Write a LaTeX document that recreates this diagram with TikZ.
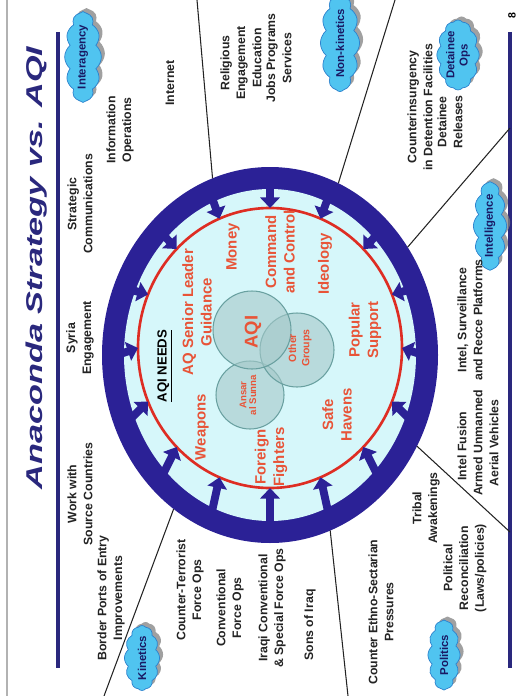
\documentclass[tikz,border=0pt]{standalone}
\usepackage{fontspec}
\setmainfont{Liberation Sans}
\usepackage{graphicx}
\usetikzlibrary{arrows.meta,shapes.symbols,shadows}

\definecolor{ringblue}{RGB}{43,33,150}
\definecolor{titleblue}{RGB}{42,40,125}
\definecolor{skyfill}{RGB}{214,247,250}
\definecolor{needred}{RGB}{232,84,56}
\definecolor{redline}{RGB}{222,45,35}
\definecolor{vennfill}{RGB}{165,200,200}
\definecolor{venndraw}{RGB}{105,160,160}
\definecolor{cloudfill}{RGB}{80,196,240}
\definecolor{clouddraw}{RGB}{45,130,205}
\definecolor{cloudtext}{RGB}{25,25,100}
\definecolor{outtext}{RGB}{35,35,35}

\tikzset{ bubble/.style = { cloud % group cloud
        , cloud puffs = 12
        , cloud puff arc = 100
        , aspect = 3.4
        , draw = clouddraw
        , fill = cloudfill
        , rotate = 90
        , inner sep = 0pt
        , text = cloudtext
        , font = \fontsize{6.5}{7.5}\selectfont\bfseries
        , drop shadow = {shadow xshift=2pt, shadow yshift=2pt, fill=gray, opacity=0.75}
        }
        , venn/.style = { draw = venndraw % group circle
        , fill = vennfill
        , fill opacity = 0.6
        , line width = 0.6pt
        }
        }

\begin{document}
\begin{tikzpicture}[x=0.02cm, y=-0.02cm,
        out_style/.style={rotate=90,align=center,inner sep=0pt,text=outtext,font=\fontsize{7}{9}\selectfont\bfseries},
        need_style/.style={rotate=90,align=center,inner sep=0pt,text=needred,font=\fontsize{8.5}{10.5}\selectfont\bfseries},
        title_style/.style={rotate=90,inner sep=0pt,text=titleblue,font=\fontsize{13}{13}\selectfont\bfseries\itshape},
        edge_style/.style={draw=outtext,line width=0.6pt},
        jab_style/.style={draw=ringblue,line width=4.5pt,-{Triangle[width=11pt,length=6pt]}},
        rule_style/.style={draw=titleblue,line width=1.8pt}]
        \useasboundingbox (0,0) rectangle (522,696);
        \draw [gray!60, line width=1pt] (7,0) -- (7,696);

        % title and rules
        \node [title_style] (ttl) at (37,268) {\scalebox{1.5}[1]{Anaconda Strategy vs. AQI}};
        \draw [rule_style] (58,32) -- (58,668);
        \draw [rule_style] (510,32) -- (510,668);
        \node [rotate=90,inner sep=0pt,font=\fontsize{6}{6}\selectfont\bfseries] (pg) at (512,16) {8};

        % ring
        \fill [ringblue] (270,355) ellipse [x radius=168, y radius=188];
        \fill [skyfill] (270,355) ellipse [x radius=146, y radius=166];
        \draw [redline, line width=1.5pt] (270,348) ellipse [x radius=132, y radius=140];
        \foreach \k [evaluate=\k as \a using \k*22.5] in {0,...,15} {
            \coordinate (rb\k) at ({270+153*cos(\a)},{355+172*sin(\a)});
            \coordinate (rt\k) at ({270+132*cos(\a)},{348+140*sin(\a)});
            \draw [jab_style] (rb\k) -- (rt\k);
        }

        % dividers
        \coordinate (ra) at ({270+168*cos(250)},{355+188*sin(250)});
        \coordinate (rb) at ({270+168*cos(294)},{355+188*sin(294)});
        \coordinate (rc) at ({270+168*cos(325)},{355+188*sin(325)});
        \coordinate (rd) at ({270+168*cos(29)},{355+188*sin(29)});
        \coordinate (re) at ({270+168*cos(69)},{355+188*sin(69)});
        \coordinate (rf) at ({270+168*cos(125)},{355+188*sin(125)});
        \coordinate (ea) at (197,0);
        \coordinate (eb) at (395,0);
        \coordinate (ec) at (510,128);
        \coordinate (ed) at (510,532);
        \coordinate (ee) at (348,696);
        \coordinate (ef) at (104,696);
        \draw [edge_style] (ra) -- (ea);
        \draw [edge_style] (rb) -- (eb);
        \draw [edge_style] (rc) -- (ec);
        \draw [edge_style] (rd) -- (ed);
        \draw [edge_style] (re) -- (ee);
        \draw [edge_style] (rf) -- (ef);

        % AQI groups
        \path [venn] (250,395) circle (34);
        \path [venn] (297,350) circle (37);
        \path [venn] (252,330) circle (39);
        \node [rotate=90,inner sep=0pt,text=needred,font=\fontsize{10.5}{10.5}\selectfont\bfseries] (aqi) at (253,332) {AQI};
        \node [need_style,font=\fontsize{6}{7.5}\selectfont\bfseries] (other) at (300,348) {Other\\Groups};
        \node [need_style,font=\fontsize{5.5}{5.5}\selectfont\bfseries] (ansar) at (248,395) {Ansar\\al Sunna};

        % AQI needs
        \node [need_style,text=black,font=\fontsize{7.5}{9}\selectfont\bfseries] (needs) at (165,366) {\underline{AQI NEEDS}};
        \node [need_style] (sl) at (197,312) {AQ Senior Leader\\Guidance};
        \node [need_style] (money) at (233,247) {Money};
        \node [need_style] (cc) at (280,252) {Command\\and Control};
        \node [need_style] (ideo) at (325,264) {Ideology};
        \node [need_style] (pop) at (365,330) {Popular\\Support};
        \node [need_style] (safe) at (337,415) {Safe\\Havens};
        \node [need_style] (ff) at (271,457) {Foreign\\Fighters};
        \node [need_style] (weap) at (202,427) {Weapons};

        % interagency
        \node [bubble, minimum width=1.74cm] (inter) at (83,57) {Interagency};
        \node [out_style] (work) at (80,494) {Work with\\Source Countries};
        \node [out_style] (syria) at (80,338) {Syria\\Engagement};
        \node [out_style] (strat) at (80,204) {Strategic\\Communications};
        \node [out_style] (info) at (120,130) {Information\\Operations};
        \node [out_style] (net) at (170,83) {Internet};
        \node [out_style] (border) at (111,598) {Border Ports of Entry\\Improvements};

        % kinetics
        \node [bubble, aspect=2.2, minimum width=1.3cm] (kin) at (142,658) {Kinetics};
        \node [out_style] (ctf) at (190,590) {Counter-Terrorist\\Force Ops};
        \node [out_style] (conv) at (230,608) {Conventional\\Force Ops};
        \node [out_style] (iraqi) at (272,608) {Iraqi Conventional\\\& Special Force Ops};
        \node [out_style] (sons) at (310,625) {Sons of Iraq};

        % non-kinetics
        \node [bubble, minimum width=1.56cm] (nonkin) at (340,43) {Non-kinetics};
        \node [out_style] (relig) at (234,63) {Religious\\Engagement};
        \node [out_style] (educ) at (257,58) {Education};
        \node [out_style] (jobs) at (272,58) {Jobs Programs};
        \node [out_style] (serv) at (287,58) {Services};

        % detainee ops
        \node [bubble, align=center, aspect=1.9, minimum width=1.4cm] (detops) at (458,55) {Detainee\\Ops};
        \node [out_style] (coin) at (420,107) {Counterinsurgency\\in Detention Facilities};
        \node [out_style] (detrel) at (450,122) {Detainee\\Releases};

        % intelligence
        \node [bubble, aspect=3.8, minimum width=1.35cm] (intel) at (490,226) {Intelligence};
        \node [out_style] (isr) at (470,320) {Intel, Surveillance\\and Recce Platforms};
        \node [out_style] (fusion) at (462,446) {Intel Fusion};
        \node [out_style] (uav) at (486,443) {Armed Unmanned\\Aerial Vehicles};

        % politics
        \node [bubble, aspect=2.2, minimum width=1.4cm] (politics) at (444,655) {Politics};
        \node [out_style] (ethno) at (381,612) {Counter Ethno-Sectarian\\Pressures};
        \node [out_style] (tribal) at (426,508) {Tribal\\Awakenings};
        \node [out_style] (polrec) at (465,568) {Political\\Reconciliation\\(Laws/policies)};
\end{tikzpicture}
\end{document}
